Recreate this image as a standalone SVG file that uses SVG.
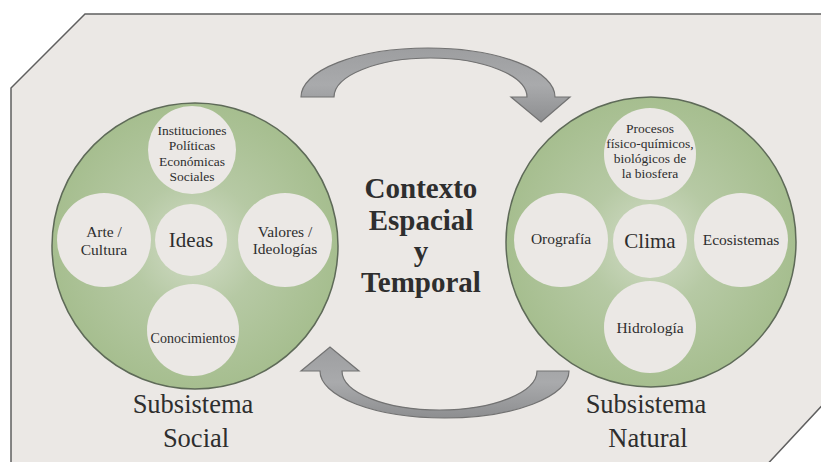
<svg xmlns="http://www.w3.org/2000/svg" width="821" height="462" viewBox="0 0 821 462">
<defs>
<style>
.bg{fill:#ebe8e5;stroke:#5f5f5f;stroke-width:1.5}
.outer{stroke:#5e6a58;stroke-width:1.5}
.inner{fill:#ebe8e5}
.t{font-family:'Liberation Serif','Times New Roman',serif;fill:#2e2e2e;text-anchor:middle}
.s13{font-size:13.5px}
.s15{font-size:15.5px}
.s20{font-size:21px}
.title{font-size:29px;font-weight:bold}
.lab{font-size:26.5px}
.arrow{fill:url(#ag);stroke:#727272;stroke-width:1.2}
</style>
<radialGradient id="gg" cx="0.5" cy="0.5" r="0.5">
<stop offset="0" stop-color="#d3ddc8"/>
<stop offset="0.45" stop-color="#b6c9a4"/>
<stop offset="1" stop-color="#a6be8f"/>
</radialGradient>
<linearGradient id="ag" x1="0" y1="0" x2="0" y2="1">
<stop offset="0" stop-color="#9d9ea0"/>
<stop offset="0.5" stop-color="#a9aaac"/>
<stop offset="1" stop-color="#8d8e90"/>
</linearGradient>
</defs>
<polygon class="bg" points="85,14 830,14 830,397 762,470 11,470 11,88"/>
<g id="connectors">
<path class="arrow" d="M301,97 A127,49 0 0 1 555,97 L570,97 L541,122 L511,97 L527,97 A96.5,39 0 0 0 334,97 Z"/>
<path class="arrow" d="M537,371 L569,371 A124.5,47 0 0 1 320,371 L301,371 L330,347 L359,371 L342,371 A97.5,39 0 0 0 537,371 Z"/>
</g>
<g id="social">
<circle class="outer" cx="195" cy="246" r="143" fill="url(#gg)"/>
<g id="instituciones">
<circle class="inner" cx="192" cy="150" r="44"/>
<text class="t s13" x="192" y="135">Instituciones</text>
<text class="t s13" x="192" y="150">Políticas</text>
<text class="t s13" x="192" y="166">Económicas</text>
<text class="t s13" x="192" y="181">Sociales</text>
</g>
<g id="arte">
<circle class="inner" cx="104" cy="240" r="47"/>
<text class="t s15" x="104" y="237">Arte /</text>
<text class="t s15" x="104" y="255">Cultura</text>
</g>
<g id="ideas">
<circle class="inner" cx="191" cy="240" r="36"/>
<text class="t s20" x="191" y="247">Ideas</text>
</g>
<g id="valores">
<circle class="inner" cx="285" cy="240" r="47"/>
<text class="t s15" x="285" y="237">Valores /</text>
<text class="t s15" x="285" y="254">Ideologías</text>
</g>
<g id="conocimientos">
<circle class="inner" cx="193" cy="330" r="46"/>
<text class="t" style="font-size:14px" x="193" y="343">Conocimientos</text>
</g>
<text class="t lab" x="193" y="413">Subsistema</text>
<text class="t lab" x="196" y="447">Social</text>
</g>
<g id="natural">
<circle class="outer" cx="651" cy="242" r="145" fill="url(#gg)"/>
<g id="procesos">
<circle class="inner" cx="650" cy="154" r="46"/>
<text class="t s13" x="650" y="133">Procesos</text>
<text class="t s13" x="650" y="148">físico-químicos,</text>
<text class="t s13" x="650" y="163">biológicos de</text>
<text class="t s13" x="650" y="178">la biosfera</text>
</g>
<g id="orografia">
<circle class="inner" cx="561" cy="240" r="47"/>
<text class="t s15" x="561" y="244">Orografía</text>
</g>
<g id="clima">
<circle class="inner" cx="650" cy="241" r="37"/>
<text class="t s20" x="650" y="248">Clima</text>
</g>
<g id="ecosistemas">
<circle class="inner" cx="741" cy="240" r="47"/>
<text class="t s15" x="741" y="245">Ecosistemas</text>
</g>
<g id="hidrologia">
<circle class="inner" cx="650" cy="327" r="46"/>
<text class="t s15" x="650" y="333">Hidrología</text>
</g>
<text class="t lab" x="646" y="413">Subsistema</text>
<text class="t lab" x="648" y="447">Natural</text>
</g>
<g id="contexto">
<text class="t title" x="421" y="198">Contexto</text>
<text class="t title" x="421" y="230">Espacial</text>
<text class="t title" x="421" y="261">y</text>
<text class="t title" x="421" y="292">Temporal</text>
</g>
</svg>
